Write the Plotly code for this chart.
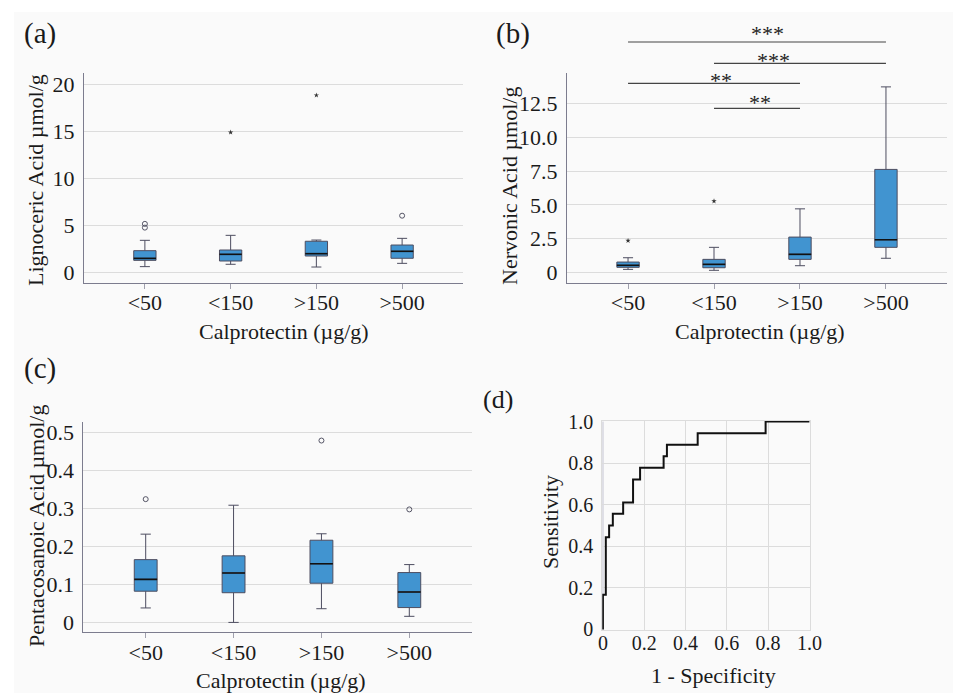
import plotly.graph_objects as go

categories = ["<50", "<150", ">150", ">500"]
cat_pos = [0, 1, 2, 3]

# (a) Lignoceric acid (µmol/g)
lig_low = [0.57, 0.82, 0.53, 0.92]
lig_q1 = [1.24, 1.17, 1.70, 1.46]
lig_med = [1.45, 1.88, 1.95, 2.20]
lig_q3 = [2.27, 2.34, 3.27, 2.87]
lig_high = [3.37, 3.90, 3.40, 3.58]
lig_out_cat = [0, 0, 3]
lig_out_val = [4.72, 5.12, 5.99]
lig_ext_cat = [1, 2]
lig_ext_val = [14.86, 18.8]

# (b) Nervonic acid (µmol/g)
ner_low = [0.22, 0.15, 0.49, 1.04]
ner_q1 = [0.37, 0.34, 0.96, 1.85]
ner_med = [0.52, 0.59, 1.33, 2.41]
ner_q3 = [0.76, 0.96, 2.61, 7.62]
ner_high = [1.08, 1.85, 4.70, 13.73]
ner_ext_cat = [0, 1]
ner_ext_val = [2.34, 5.27]

# significance brackets in (b): from category, to category, label
sig_from = [0, 1, 0, 1]
sig_to = [3, 3, 2, 2]
sig_label = ["***", "***", "**", "**"]

# (c) Pentacosanoic acid (µmol/g)
pen_low = [0.038, 0.0, 0.036, 0.016]
pen_q1 = [0.082, 0.078, 0.103, 0.039]
pen_med = [0.113, 0.130, 0.154, 0.080]
pen_q3 = [0.165, 0.175, 0.216, 0.131]
pen_high = [0.232, 0.308, 0.233, 0.152]
pen_out_cat = [0, 2, 3]
pen_out_val = [0.324, 0.478, 0.297]

# (d) ROC curve
roc_fpr = [0, 0, 0.014, 0.030, 0.048, 0.098, 0.146, 0.180, 0.294, 0.310, 0.459, 0.788, 1.0]
roc_tpr = [0, 0.167, 0.444, 0.500, 0.556, 0.611, 0.722, 0.778, 0.833, 0.889, 0.944, 1.0, 1.0]

# tick labels
lig_ticks = [0, 5, 10, 15, 20]
lig_ticktext = ["0", "5", "10", "15", "20"]
ner_ticks = [0, 2.5, 5.0, 7.5, 10.0, 12.5]
ner_ticktext = ["0", "2.5", "5.0", "7.5", "10.0", "12.5"]
pen_ticks = [0, 0.1, 0.2, 0.3, 0.4, 0.5]
pen_ticktext = ["0", "0.1", "0.2", "0.3", "0.4", "0.5"]
roc_ticks = [0, 0.2, 0.4, 0.6, 0.8, 1.0]
roc_ticktext = ["0", "0.2", "0.4", "0.6", "0.8", "1.0"]

W, H = 953, 693
FONT = "Liberation Serif"
BOX_FILL = "#4194d0"
BOX_LINE = "#4d4d60"
AXIS_LINE = "#7c7c8e"
GRID = "#dcdcdc"
BOX_W = 0.26


def px_x(p):
    return p / W


def px_y(p):
    return 1 - p / H


fig = go.Figure()


def add_box_panel(xa, ya, low, q1, med, q3, high, out_cat=None, out_val=None, ext_cat=None, ext_val=None):
    fig.add_trace(go.Box(
        x=cat_pos, q1=q1, median=med, q3=q3, lowerfence=low, upperfence=high,
        width=BOX_W, whiskerwidth=0.45, fillcolor=BOX_FILL,
        line=dict(color=BOX_LINE, width=1), boxpoints=False,
        xaxis=xa, yaxis=ya, showlegend=False, hoverinfo="skip"))
    mx, my = [], []
    for c, m in zip(cat_pos, med):
        mx += [c - BOX_W / 2, c + BOX_W / 2, None]
        my += [m, m, None]
    fig.add_trace(go.Scatter(x=mx, y=my, mode="lines", line=dict(color="#111111", width=1.6),
                             xaxis=xa, yaxis=ya, showlegend=False, hoverinfo="skip"))
    if out_cat:
        fig.add_trace(go.Scatter(x=out_cat, y=out_val, mode="markers",
                                 marker=dict(symbol="circle-open", size=5, color="#555566",
                                             line=dict(width=1)),
                                 xaxis=xa, yaxis=ya, showlegend=False, cliponaxis=False))
    if ext_cat:
        fig.add_trace(go.Scatter(x=ext_cat, y=ext_val, mode="markers",
                                 marker=dict(symbol="star", size=4, color="#333333"),
                                 xaxis=xa, yaxis=ya, showlegend=False, cliponaxis=False))


add_box_panel("x", "y", lig_low, lig_q1, lig_med, lig_q3, lig_high,
              lig_out_cat, lig_out_val, lig_ext_cat, lig_ext_val)
add_box_panel("x2", "y2", ner_low, ner_q1, ner_med, ner_q3, ner_high,
              None, None, ner_ext_cat, ner_ext_val)
add_box_panel("x3", "y3", pen_low, pen_q1, pen_med, pen_q3, pen_high,
              pen_out_cat, pen_out_val)

fig.add_trace(go.Scatter(x=roc_fpr, y=roc_tpr, mode="lines", line=dict(color="#111111", width=2, shape="hv"),
                         xaxis="x4", yaxis="y4", showlegend=False))

tickfont = dict(family=FONT, size=22, color="#1a1a1a")


def cat_xaxis(dom, anchor):
    return dict(domain=dom, anchor=anchor, range=[-0.71, 3.71], tickmode="array",
                tickvals=cat_pos, ticktext=categories, ticks="outside", ticklen=5,
                tickcolor="#a0a0ad", showline=True, linecolor=AXIS_LINE, linewidth=1,
                showgrid=False, zeroline=False, tickfont=tickfont, ticklabelstandoff=-5)


def val_yaxis(dom, anchor, rng, tv, tt):
    return dict(domain=dom, anchor=anchor, range=rng, tickmode="array", tickvals=tv,
                ticktext=tt, ticks="", showline=True, linecolor=AXIS_LINE, linewidth=1,
                showgrid=True, gridcolor=GRID, gridwidth=1, zeroline=False,
                tickfont=tickfont, ticklabelstandoff=4)


roc_font = dict(family=FONT, size=20, color="#1a1a1a")

fig.update_layout(
    width=W, height=H, autosize=False,
    margin=dict(l=0, r=0, t=0, b=0, pad=0, autoexpand=False),
    paper_bgcolor="white", plot_bgcolor="rgba(0,0,0,0)",
    xaxis=cat_xaxis([px_x(84), px_x(463)], "y"),
    yaxis=val_yaxis([px_y(283), px_y(73)], "x", [-1.17, 21.17], lig_ticks, lig_ticktext),
    xaxis2=cat_xaxis([px_x(567), px_x(947)], "y2"),
    yaxis2=val_yaxis([px_y(283), px_y(72.7)], "x2", [-0.79, 14.78], ner_ticks, ner_ticktext),
    xaxis3=cat_xaxis([px_x(83.3), px_x(471.7)], "y3"),
    yaxis3=val_yaxis([px_y(632.3), px_y(422.3)], "x3", [-0.026, 0.526], pen_ticks, pen_ticktext),
    xaxis4=dict(domain=[px_x(602.3), px_x(810)], anchor="y4", range=[-0.003, 1.003],
                tickmode="array", tickvals=roc_ticks, ticktext=roc_ticktext, ticks="",
                showgrid=True, gridcolor=GRID, zeroline=False, showline=True, mirror=True,
                linecolor=GRID, tickfont=roc_font, ticklabelstandoff=-5),
    yaxis4=dict(domain=[px_y(630), px_y(421)], anchor="x4", range=[-0.003, 1.003],
                tickmode="array", tickvals=roc_ticks, ticktext=roc_ticktext, ticks="",
                showgrid=True, gridcolor=GRID, zeroline=False, showline=True, mirror=True,
                linecolor=GRID, tickfont=roc_font, ticklabelstandoff=4),
)

# light panel background
fig.add_shape(type="rect", xref="paper", yref="paper", x0=px_x(14), x1=1, y0=0, y1=px_y(12),
              fillcolor="#fafafa", line=dict(width=0), layer="below")
fig.add_shape(type="line", xref="x4", yref="y4", x0=0, x1=0, y0=0, y1=1,
              line=dict(color="#b8b8c8", width=1), layer="below")

# significance brackets on (b)
sig_line_y = [42, 63.3, 83.3, 108.3]
sig_text_y = [34, 61, 80, 102.5]
sig_text_x = [1.62, 1.69, 1.08, 1.54]
for f, t, lab, ly, ty, tx in zip(sig_from, sig_to, sig_label, sig_line_y, sig_text_y, sig_text_x):
    fig.add_shape(type="line", xref="x2", yref="paper", x0=f, x1=t, y0=px_y(ly), y1=px_y(ly),
                  line=dict(color="#444444", width=1.2))
    fig.add_annotation(x=tx, y=px_y(ty), xref="x2", yref="paper", text=lab, showarrow=False,
                       font=dict(family=FONT, size=22, color="#222222"),
                       xanchor="center", yanchor="middle")


def ann(text, x, y, size=22, angle=0):
    fig.add_annotation(x=px_x(x), y=px_y(y), xref="paper", yref="paper", text=text,
                       showarrow=False, textangle=angle,
                       font=dict(family=FONT, size=size, color="#1a1a1a"),
                       xanchor="center", yanchor="middle")


# panel letters
ann("(a)", 40, 34, 29)
ann("(b)", 513, 34, 29)
ann("(c)", 40, 368, 29)
ann("(d)", 498, 400, 26)

# axis titles
ann("Lignoceric Acid µmol/g", 36, 180, 22, -90)
ann("Calprotectin (µg/g)", 284, 331, 22)
ann("Nervonic Acid µmol/g", 509, 186, 22, -90)
ann("Calprotectin (µg/g)", 760, 331, 22)
ann("Pentacosanoic Acid µmol/g", 36, 526, 22, -90)
ann("Calprotectin (µg/g)", 281, 680, 22)
ann("Sensitivity", 550, 522, 22, -90)
ann("1 - Specificity", 713, 675, 22)

fig.write_html("out.html")
